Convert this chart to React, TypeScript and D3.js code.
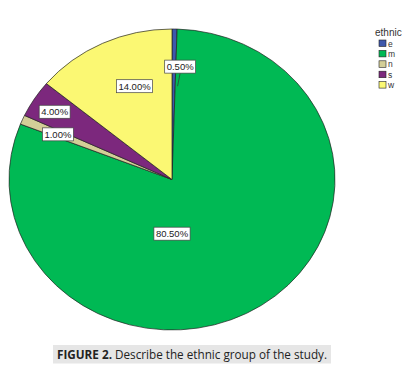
import React from "react";
import * as d3 from "d3";

// ethnic group shares (%)
const groups = ["e", "m", "n", "s", "w"];
const shares = [0.5, 80.5, 1.0, 4.0, 14.0];
const colours = ["#3E58AC", "#00B954", "#D3CE97", "#7C287D", "#FBF873"];

// label centre offsets, in units of the pie radii (SPSS puts them by hand)
const labelOffsets: [number, number][] = [
	[0.05, -0.75],
	[0.0, 0.36],
	[-0.7, -0.3],
	[-0.72, -0.45],
	[-0.23, -0.62],
];

const W = 402;
const H = 369;
const cx = 172;
const cy = 179.5;
const rx = 163;
const ry = 150.5;

const measure = (() => {
	const ctx = document.createElement("canvas").getContext("2d");
	return (t: string, font: string) => {
		if (!ctx) return t.length * 5;
		ctx.font = font;
		return ctx.measureText(t).width;
	};
})();

export default function App() {
	const data = groups.map((g, i) => ({ g, v: shares[i], c: colours[i] }));
	const pie = d3
		.pie<{ g: string; v: number; c: string }>()
		.sort(null)
		.value((d) => d.v);
	const arcs = pie(data);
	const arc = d3
		.arc<d3.PieArcDatum<{ g: string; v: number; c: string }>>()
		.innerRadius(0)
		.outerRadius(ry);

	const labelFont = "9.5px 'Liberation Sans', Arial, sans-serif";

	return (
		<svg
			width={W}
			height={H}
			style={{ position: "absolute", left: 0, top: 0, background: "#fff" }}
		>
			{/* Pie, drawn as a circle stretched into an ellipse */}
			<g transform={`translate(${cx},${cy}) scale(${rx / ry},1)`}>
				{arcs.map((a) => (
					<path
						key={a.data.g}
						d={arc(a) || ""}
						fill={a.data.c}
						stroke="#222"
						strokeWidth={0.7}
						vectorEffect="non-scaling-stroke"
					/>
				))}
			</g>

			{/* Leader line for the thin slice */}
			{(() => {
				const a = arcs[0];
				const mid = (a.startAngle + a.endAngle) / 2;
				const [ox, oy] = labelOffsets[0];
				const x1 = cx + ox * rx;
				const y1 = cy + oy * ry + 6.5;
				const x2 = cx + Math.sin(mid) * rx * 0.62 + 4;
				const y2 = cy - Math.cos(mid) * ry * 0.62;
				return <line x1={x1} y1={y1} x2={x2} y2={y2} stroke="#333" strokeWidth={0.7} />;
			})()}

			{/* Value labels */}
			{arcs.map((a, i) => {
				const txt = d3.format(".2f")(a.data.v) + "%";
				const w = measure(txt, labelFont) + 4;
				const h = 13;
				const [ox, oy] = labelOffsets[i];
				const x = cx + ox * rx;
				const y = cy + oy * ry;
				return (
					<g key={"l" + a.data.g}>
						<rect
							x={x - w / 2}
							y={y - h / 2}
							width={w}
							height={h}
							fill="#fff"
							stroke="#444"
							strokeWidth={0.7}
						/>
						<text
							x={x}
							y={y + 3.5}
							textAnchor="middle"
							fontFamily="'Liberation Sans', Arial, sans-serif"
							fontSize={9.5}
							fill="#222"
						>
							{txt}
						</text>
					</g>
				);
			})}

			{/* Legend */}
			<g fontFamily="'Liberation Sans', Arial, sans-serif" fill="#333">
				<text x={375} y={36} fontSize={10}>
					ethnic
				</text>
				{groups.map((g, i) => (
					<g key={"k" + g} transform={`translate(379,${40 + i * 10.4})`}>
						<rect width={7} height={6.5} fill={colours[i]} stroke="#222" strokeWidth={0.6} />
						<text x={9} y={6.5} fontSize={8.5}>
							{g}
						</text>
					</g>
				))}
			</g>

			{/* Caption */}
			<rect x={53} y={345} width={278} height={18.5} fill="#E6E6E6" />
			<text
				x={57}
				y={359}
				fontFamily="'Open Sans', 'Noto Sans', sans-serif"
				fontSize={12}
				fill="#222"
				textLength={270}
				lengthAdjust="spacingAndGlyphs"
			>
				<tspan fontWeight="bold">FIGURE 2.</tspan>
				<tspan> Describe the ethnic group of the study.</tspan>
			</text>
		</svg>
	);
}
